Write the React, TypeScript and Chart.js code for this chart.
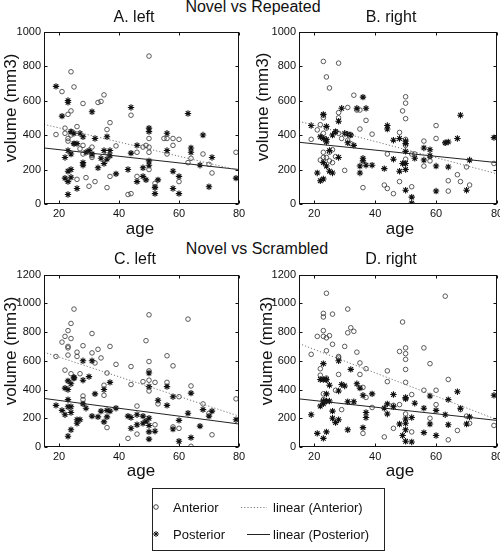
import React, { useEffect, useRef } from "react";
import { Chart, registerables } from "chart.js";
Chart.register(...registerables);

const FONT = "'Liberation Sans', Arial, sans-serif";

const xTicks = [20, 40, 60, 80];
const yTicksTop = [0, 200, 400, 600, 800, 1000];
const yTicksBottom = [0, 200, 400, 600, 800, 1000, 1200];
const fitAges = [15, 80];

// Panel A: Novel vs Repeated, left
const anteriorA = [[19,403],[21,652],[22,440],[22,410],[23,520],[23,380],[23,365],[24,767],[24,540],[24,400],[24,420],[25,679],[25,350],[26,449],[26,143],[27,320],[28,583],[28,340],[28,290],[29,153],[30,103],[31,280],[31,270],[31,330],[32,130],[33,589],[34,595],[35,633],[36,432],[36,95],[36,300],[37,472],[37,160],[39,337],[43,55],[44,60],[44,515],[46,160],[46,300],[48,330],[49,340],[50,858],[50,380],[50,330],[50,300],[50,200],[52,120],[52,100],[55,380],[56,380],[56,290],[58,380],[58,340],[60,375],[60,130],[63,240],[64,265],[68,290],[70,230],[71,180],[79,300]];
const posteriorA = [[19,682],[21,510],[22,270],[22,150],[23,600],[23,590],[23,310],[23,190],[23,130],[23,55],[24,420],[24,290],[24,200],[24,155],[25,410],[25,350],[26,350],[26,90],[27,410],[28,390],[28,240],[28,225],[29,300],[30,310],[31,535],[31,290],[32,380],[33,210],[34,265],[35,310],[35,235],[36,390],[36,260],[37,310],[37,280],[39,175],[43,200],[44,560],[44,295],[46,340],[46,130],[48,210],[48,160],[49,140],[50,440],[50,420],[50,250],[50,225],[52,95],[52,60],[53,140],[56,410],[56,310],[58,190],[58,90],[60,160],[60,60],[63,525],[64,325],[64,300],[67,225],[68,400],[70,100],[71,270],[79,150]];
const fitAntA = [462, 195];
const fitPostA = [325, 200];

// Panel B: Novel vs Repeated, right
const anteriorB = [[19,375],[21,430],[22,460],[22,255],[23,827],[23,515],[23,500],[23,410],[23,300],[23,270],[24,737],[24,440],[24,270],[25,673],[25,250],[25,300],[26,315],[26,240],[27,275],[27,420],[28,817],[28,530],[28,500],[28,410],[29,380],[30,195],[31,560],[31,370],[32,400],[32,350],[33,631],[34,545],[35,545],[35,435],[36,95],[37,485],[39,405],[43,110],[44,90],[44,290],[46,60],[48,415],[48,130],[49,540],[50,622],[50,585],[50,495],[50,375],[50,340],[50,260],[52,100],[52,290],[53,290],[56,365],[56,220],[58,275],[58,250],[60,455],[60,380],[63,355],[64,135],[64,75],[67,170],[68,130],[70,215],[71,110],[79,235]];
const posteriorB = [[19,455],[21,180],[22,390],[22,135],[23,520],[23,380],[23,240],[23,145],[24,450],[24,375],[24,360],[24,220],[25,310],[25,190],[26,400],[26,180],[27,420],[28,480],[28,270],[29,555],[30,410],[31,405],[31,355],[32,400],[33,340],[34,555],[35,220],[35,180],[36,620],[36,265],[36,250],[37,555],[37,225],[39,225],[43,205],[44,455],[44,435],[46,370],[46,260],[48,380],[48,190],[49,235],[50,365],[50,350],[50,305],[50,235],[50,200],[50,80],[52,40],[52,5],[53,265],[56,325],[56,255],[58,315],[58,280],[60,220],[60,75],[63,355],[64,360],[64,215],[67,380],[68,515],[70,80],[71,255],[79,385]];
const fitAntB = [480, 175];
const fitPostB = [358, 240];

// Panel C: Novel vs Scrambled, left
const anteriorC = [[19,630],[21,730],[22,770],[22,535],[23,810],[23,700],[23,690],[23,640],[24,860],[24,755],[24,510],[25,960],[25,480],[26,660],[26,630],[27,510],[28,705],[28,355],[28,330],[31,790],[31,655],[32,585],[33,680],[34,620],[35,430],[35,360],[36,515],[36,135],[37,700],[39,575],[43,60],[44,560],[44,435],[46,285],[46,90],[48,455],[49,740],[50,920],[50,595],[50,530],[50,465],[50,390],[52,450],[52,155],[53,300],[56,635],[56,450],[58,565],[58,140],[60,350],[60,130],[63,890],[64,425],[64,5],[68,300],[70,235],[71,85],[79,335]];
const posteriorC = [[19,290],[21,255],[22,410],[22,225],[23,460],[23,400],[23,330],[23,280],[23,75],[24,440],[24,280],[24,240],[24,120],[25,485],[25,480],[26,190],[26,165],[27,190],[28,600],[28,465],[28,300],[29,270],[30,490],[31,600],[31,215],[32,370],[33,210],[34,250],[35,400],[35,175],[36,255],[36,210],[37,450],[37,250],[39,270],[43,215],[44,205],[44,130],[46,225],[46,155],[48,215],[48,165],[49,180],[50,515],[50,420],[50,200],[50,150],[50,105],[50,55],[52,110],[53,325],[56,420],[56,290],[58,350],[58,125],[60,185],[60,40],[63,235],[64,375],[64,65],[67,145],[68,260],[70,215],[71,250],[79,190]];
const fitAntC = [660, 215];
const fitPostC = [338, 160];

// Panel D: Novel vs Scrambled, right
const anteriorD = [[19,645],[21,770],[22,545],[22,500],[23,930],[23,905],[23,810],[23,770],[23,370],[23,330],[24,1070],[24,760],[24,670],[24,480],[24,465],[25,775],[26,925],[26,715],[27,395],[28,630],[28,620],[28,505],[29,260],[30,700],[31,960],[31,795],[32,830],[33,805],[34,660],[35,585],[35,505],[36,415],[36,95],[37,545],[37,345],[39,275],[43,70],[44,530],[44,455],[46,290],[46,130],[48,665],[48,295],[49,870],[50,690],[50,650],[50,610],[50,540],[50,450],[50,230],[52,365],[52,105],[56,690],[56,395],[58,580],[58,200],[60,395],[60,295],[63,1050],[64,470],[64,50],[67,115],[68,260],[70,215],[71,165],[79,150]];
const posteriorD = [[19,225],[21,95],[22,470],[22,285],[23,580],[23,470],[23,320],[23,300],[23,60],[24,470],[24,370],[24,320],[24,105],[25,430],[25,320],[26,250],[26,200],[27,170],[28,600],[28,390],[28,190],[29,435],[30,425],[31,315],[31,120],[32,540],[33,315],[34,440],[35,410],[36,360],[36,135],[37,240],[37,205],[39,370],[43,270],[44,300],[44,230],[46,365],[46,280],[48,160],[49,80],[50,345],[50,335],[50,195],[50,165],[50,120],[50,40],[52,205],[52,35],[53,305],[56,270],[56,100],[58,355],[58,160],[60,255],[60,80],[63,225],[64,330],[64,155],[67,385],[68,270],[70,160],[71,210],[79,360]];
const fitAntD = [720, 190];
const fitPostD = [335, 185];

const boxPlugin = {
  id: "matlabBox",
  afterDraw(chart: any) {
    const { ctx, chartArea: a, scales } = chart;
    ctx.save();
    ctx.strokeStyle = "#111";
    ctx.lineWidth = 1;
    const L = Math.round(a.left) + 0.5;
    const R = Math.round(a.right) - 0.5;
    const T = Math.round(a.top) + 0.5;
    const B = Math.round(a.bottom) - 0.5;
    ctx.strokeRect(L, T, R - L, B - T);
    const tl = 3;
    ctx.beginPath();
    scales.x.ticks.forEach((t: any) => {
      const px = Math.round(scales.x.getPixelForValue(t.value)) + 0.5;
      ctx.moveTo(px, B); ctx.lineTo(px, B - tl);
      ctx.moveTo(px, T); ctx.lineTo(px, T + tl);
    });
    scales.y.ticks.forEach((t: any) => {
      const py = Math.round(scales.y.getPixelForValue(t.value)) + 0.5;
      ctx.moveTo(L, py); ctx.lineTo(L + tl, py);
      ctx.moveTo(R, py); ctx.lineTo(R - tl, py);
    });
    ctx.stroke();
    ctx.restore();
  },
};

type PanelProps = {
  left: number; top: number; width: number; height: number; padRight: number;
  yMax: number; yTicks: number[];
  anterior: number[][]; posterior: number[][]; fitAnt: number[]; fitPost: number[];
};

function Panel(p: PanelProps) {
  const ref = useRef<HTMLCanvasElement>(null);
  useEffect(() => {
    const toPts = (arr: number[][]) => arr.map(([x, y]) => ({ x, y }));
    const chart = new Chart(ref.current as HTMLCanvasElement, {
      type: "scatter",
      data: {
        datasets: [
          {
            data: toPts(p.posterior),
            pointStyle: "star",
            radius: 3.2,
            borderColor: "#111",
            backgroundColor: "#111",
            borderWidth: 1.1,
            order: 1,
          } as any,
          {
            data: toPts(p.anterior),
            pointStyle: "circle",
            radius: 2.3,
            borderColor: "#333",
            backgroundColor: "rgba(0,0,0,0)",
            borderWidth: 0.8,
            order: 2,
          } as any,
          {
            data: fitAges.map((x, i) => ({ x, y: p.fitAnt[i] })),
            showLine: true,
            pointRadius: 0,
            borderColor: "#777",
            borderWidth: 1,
            borderDash: [1.2, 2],
            order: 0,
          } as any,
          {
            data: fitAges.map((x, i) => ({ x, y: p.fitPost[i] })),
            showLine: true,
            pointRadius: 0,
            borderColor: "#222",
            borderWidth: 1,
            order: 0,
          } as any,
        ],
      },
      options: {
        animation: false,
        responsive: false,
        devicePixelRatio: 1,
        events: [],
        layout: { padding: { top: 8, right: p.padRight, bottom: 0, left: 0 } },
        plugins: { legend: { display: false }, title: { display: false }, tooltip: { enabled: false } },
        scales: {
          x: {
            type: "linear",
            min: 15,
            max: 80,
            grid: { display: false, drawTicks: false },
            border: { display: false },
            ticks: {
              font: { family: FONT, size: 11 }, color: "#111", padding: 3, maxRotation: 0, autoSkip: false,
              callback: (v: any) => String(v),
            },
            afterBuildTicks: (s: any) => { s.ticks = xTicks.map((v) => ({ value: v })); },
            afterFit: (s: any) => { s.height = 21; },
          },
          y: {
            type: "linear",
            min: 0,
            max: p.yMax,
            grid: { display: false, drawTicks: false },
            border: { display: false },
            ticks: {
              font: { family: FONT, size: 11 }, color: "#111", padding: 3, autoSkip: false,
              callback: (v: any) => String(v),
            },
            afterBuildTicks: (s: any) => { s.ticks = p.yTicks.map((v) => ({ value: v })); },
            afterFit: (s: any) => { s.width = 44; },
          },
        },
      } as any,
      plugins: [boxPlugin],
    });
    return () => chart.destroy();
  }, []);
  return (
    <canvas
      ref={ref}
      width={p.width}
      height={p.height}
      style={{ position: "absolute", left: p.left, top: p.top, width: p.width, height: p.height, display: "block" }}
    />
  );
}

function Txt({ x, y, size, children, rotate, anchor }: any) {
  const tx = anchor === "left" ? "0" : "-50%";
  return (
    <div
      style={{
        position: "absolute",
        left: x,
        top: y,
        fontSize: size,
        lineHeight: 1,
        whiteSpace: "nowrap",
        color: "#111",
        fontFamily: FONT,
        transform: `translate(${tx}, -50%)${rotate ? " rotate(-90deg)" : ""}`,
        transformOrigin: "center center",
      }}
    >
      {children}
    </div>
  );
}

export default function App() {
  return (
    <div
      style={{
        position: "absolute",
        left: 0,
        top: 0,
        width: 500,
        height: 552,
        overflow: "hidden",
        background: "#fff",
        fontFamily: FONT,
      }}
    >
      <Panel left={0} top={22} width={249} height={203} padRight={10} yMax={1000} yTicks={yTicksTop}
        anterior={anteriorA} posterior={posteriorA} fitAnt={fitAntA} fitPost={fitPostA} />
      <Panel left={255} top={22} width={260} height={203} padRight={18} yMax={1000} yTicks={yTicksTop}
        anterior={anteriorB} posterior={posteriorB} fitAnt={fitAntB} fitPost={fitPostB} />
      <Panel left={0} top={265} width={249} height={203} padRight={10} yMax={1200} yTicks={yTicksBottom}
        anterior={anteriorC} posterior={posteriorC} fitAnt={fitAntC} fitPost={fitPostC} />
      <Panel left={255} top={265} width={260} height={203} padRight={18} yMax={1200} yTicks={yTicksBottom}
        anterior={anteriorD} posterior={posteriorD} fitAnt={fitAntD} fitPost={fitPostD} />

      <Txt x={253} y={7} size={16}>Novel vs Repeated</Txt>
      <Txt x={257} y={249} size={16}>Novel vs Scrambled</Txt>
      <Txt x={134} y={17} size={16}>A. left</Txt>
      <Txt x={391} y={17} size={16}>B. right</Txt>
      <Txt x={135} y={259} size={16}>C. left</Txt>
      <Txt x={391} y={259} size={16}>D. right</Txt>

      <Txt x={140} y={228} size={17}>age</Txt>
      <Txt x={400} y={228} size={17}>age</Txt>
      <Txt x={141} y={470} size={17}>age</Txt>
      <Txt x={400} y={470} size={17}>age</Txt>
      <Txt x={10} y={108} size={17} rotate>volume (mm3)</Txt>
      <Txt x={262} y={107} size={17} rotate>volume (mm3)</Txt>
      <Txt x={10} y={351} size={17} rotate>volume (mm3)</Txt>
      <Txt x={266} y={351} size={17} rotate>volume (mm3)</Txt>

      <div
        style={{
          position: "absolute",
          left: 152,
          top: 488,
          width: 233,
          height: 63,
          boxSizing: "border-box",
          border: "1px solid #222",
        }}
      />
      <svg width={500} height={552} style={{ position: "absolute", left: 0, top: 0 }}>
        <circle cx={156} cy={507} r={2.3} fill="none" stroke="#333" strokeWidth={0.9} />
        <g stroke="#111" strokeWidth={1}>
          <line x1={153} y1={534} x2={159} y2={534} />
          <line x1={156} y1={531} x2={156} y2={537} />
          <line x1={153.9} y1={531.9} x2={158.1} y2={536.1} />
          <line x1={153.9} y1={536.1} x2={158.1} y2={531.9} />
        </g>
        <line x1={241} y1={507.5} x2={267} y2={507.5} stroke="#777" strokeWidth={1} strokeDasharray="1.2 2" />
        <line x1={247} y1={534.5} x2={270} y2={534.5} stroke="#222" strokeWidth={1} />
      </svg>
      <Txt x={173} y={507} size={13} anchor="left">Anterior</Txt>
      <Txt x={173} y={534} size={13} anchor="left">Posterior</Txt>
      <Txt x={273} y={507} size={13} anchor="left">linear (Anterior)</Txt>
      <Txt x={273} y={534} size={13} anchor="left">linear (Posterior)</Txt>
    </div>
  );
}
